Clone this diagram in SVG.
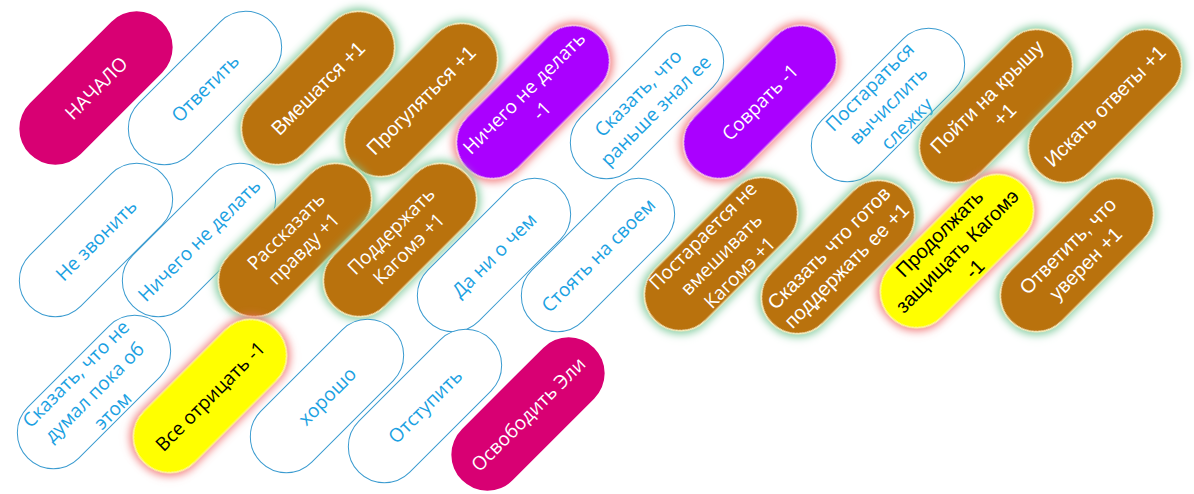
<svg xmlns="http://www.w3.org/2000/svg" width="1194" height="494" viewBox="0 0 1194 494">
<defs>
<filter id="glowG" x="-30%" y="-30%" width="160%" height="160%">
<feMorphology in="SourceAlpha" operator="dilate" radius="2" result="d"/>
<feGaussianBlur in="d" stdDeviation="4" result="b"/>
<feFlood flood-color="#7cc99a" flood-opacity="0.95"/>
<feComposite in2="b" operator="in" result="g"/>
<feMerge><feMergeNode in="g"/><feMergeNode in="SourceGraphic"/></feMerge>
</filter>
<filter id="glowR" x="-30%" y="-30%" width="160%" height="160%">
<feMorphology in="SourceAlpha" operator="dilate" radius="2" result="d"/>
<feGaussianBlur in="d" stdDeviation="4" result="b"/>
<feFlood flood-color="#f07070" flood-opacity="0.9"/>
<feComposite in2="b" operator="in" result="g"/>
<feMerge><feMergeNode in="g"/><feMergeNode in="SourceGraphic"/></feMerge>
</filter>
</defs>
<style>
.white rect{fill:#ffffff;stroke:#3a9bd0;stroke-width:1}
.white text{fill:#1ba1e2}
.mag rect{fill:#d80073;stroke:none}
.mag text{fill:#ffffff}
.brown rect{fill:#b9720c;stroke:#fff2c0;stroke-width:1.2;filter:url(#glowG)}
.brown text{fill:#ffffff}
.purple rect{fill:#aa00ff;stroke:#ffd0e0;stroke-width:1.2;filter:url(#glowR)}
.purple text{fill:#ffffff}
.yellow rect{fill:#ffff00;stroke:#fff6a0;stroke-width:1.2;filter:url(#glowR)}
.yellow text{fill:#000000}
text{font-family:"Open Sans","DejaVu Sans",sans-serif;font-size:19px;text-anchor:middle}
text.a{font-family:"Liberation Sans",Arial,sans-serif;font-size:20px}
</style>
<g id="connectors"/>

<g id="n1" class="mag" transform="translate(96,88) rotate(-45)"><rect x="-93.5" y="-36" width="187" height="72" rx="36"/><text y="7">НАЧАЛО</text></g>
<g id="n2" class="white" transform="translate(205,88) rotate(-45)"><rect x="-93.5" y="-36" width="187" height="72" rx="36"/><text y="7">Ответить</text></g>
<g id="n3" class="brown" transform="translate(318,88) rotate(-45)"><rect x="-93.5" y="-36" width="187" height="72" rx="36"/><text class="a" y="7">Вмешатся +1</text></g>
<g id="n4" class="brown" transform="translate(421,100) rotate(-45)"><rect x="-93.5" y="-36" width="187" height="72" rx="36"/><text class="a" y="7">Прогуляться +1</text></g>
<g id="n5" class="purple" transform="translate(533,102) rotate(-45)"><rect x="-93.5" y="-36" width="187" height="72" rx="36"/><text y="-6">Ничего не делать<tspan x="0" dy="25">-1</tspan></text></g>
<g id="n6" class="white" transform="translate(647,102) rotate(-45)"><rect x="-93.5" y="-36" width="187" height="72" rx="36"/><text y="-6">Сказать, что<tspan x="0" dy="25">раньше знал ее</tspan></text></g>
<g id="n7" class="purple" transform="translate(760,102) rotate(-45)"><rect x="-93.5" y="-36" width="187" height="72" rx="36"/><text y="7">Соврать -1</text></g>
<g id="n8" class="white" transform="translate(888,105) rotate(-45)"><rect x="-93.5" y="-36" width="187" height="72" rx="36"/><text y="-19">Постараться<tspan x="0" dy="26">вычислить</tspan><tspan x="0" dy="26">слежку</tspan></text></g>
<g id="n9" class="brown" transform="translate(996,106) rotate(-45)"><rect x="-93.5" y="-36" width="187" height="72" rx="36"/><text class="a" y="-6">Пойти на крышу<tspan x="0" dy="25">+1</tspan></text></g>
<g id="n10" class="brown" transform="translate(1105,106) rotate(-45)"><rect x="-93.5" y="-36" width="187" height="72" rx="36"/><text class="a" y="7">Искать ответы +1</text></g>

<g id="n11" class="white" transform="translate(96,240) rotate(-45)"><rect x="-93.5" y="-36" width="187" height="72" rx="36"/><text y="7">Не звонить</text></g>
<g id="n12" class="white" transform="translate(199,240) rotate(-45)"><rect x="-93.5" y="-36" width="187" height="72" rx="36"/><text y="7">Ничего не делать</text></g>
<g id="n13" class="brown" transform="translate(295,240) rotate(-45)"><rect x="-93.5" y="-36" width="187" height="72" rx="36"/><text y="-6">Рассказать<tspan x="0" dy="25">правду +1</tspan></text></g>
<g id="n14" class="brown" transform="translate(400,240) rotate(-45)"><rect x="-93.5" y="-36" width="187" height="72" rx="36"/><text y="-6">Поддержать<tspan x="0" dy="25">Кагомэ +1</tspan></text></g>
<g id="n15" class="white" transform="translate(494,255) rotate(-45)"><rect x="-93.5" y="-36" width="187" height="72" rx="36"/><text y="7">Да ни о чем</text></g>
<g id="n16" class="white" transform="translate(598,255) rotate(-45)"><rect x="-93.5" y="-36" width="187" height="72" rx="36"/><text y="7">Стоять на своем</text></g>
<g id="n17" class="brown" transform="translate(721,254) rotate(-45)"><rect x="-93.5" y="-36" width="187" height="72" rx="36"/><text y="-19">Постарается не<tspan x="0" dy="26">вмешивать</tspan><tspan x="0" dy="26">Кагомэ +1</tspan></text></g>
<g id="n18" class="brown" transform="translate(838,257) rotate(-45)"><rect x="-93.5" y="-36" width="187" height="72" rx="36"/><text class="a" y="-6">Сказать что готов<tspan x="0" dy="25">поддержать ее +1</tspan></text></g>
<g id="n19" class="yellow" transform="translate(957,251) rotate(-45)"><rect x="-93.5" y="-36" width="187" height="72" rx="36"/><text class="a" y="-18">Продолжать<tspan x="0" dy="25">защищать Кагомэ</tspan><tspan x="0" dy="25">-1</tspan></text></g>
<g id="n20" class="brown" transform="translate(1077,255) rotate(-45)"><rect x="-93.5" y="-36" width="187" height="72" rx="36"/><text class="a" y="-6">Ответить, что<tspan x="0" dy="25">уверен +1</tspan></text></g>

<g id="n21" class="white" transform="translate(94,392) rotate(-45)"><rect x="-93.5" y="-36" width="187" height="72" rx="36"/><text y="-19">Сказать, что не<tspan x="0" dy="26">думал пока об</tspan><tspan x="0" dy="26">этом</tspan></text></g>
<g id="n22" class="yellow" transform="translate(210,396) rotate(-45)"><rect x="-93.5" y="-36" width="187" height="72" rx="36"/><text y="7">Все отрицать -1</text></g>
<g id="n23" class="white" transform="translate(327,396) rotate(-45)"><rect x="-93.5" y="-36" width="187" height="72" rx="36"/><text y="7">хорошо</text></g>
<g id="n24" class="white" transform="translate(425,406) rotate(-45)"><rect x="-93.5" y="-36" width="187" height="72" rx="36"/><text y="7">Отступить</text></g>
<g id="n25" class="mag" transform="translate(528,414) rotate(-45)"><rect x="-93.5" y="-36" width="187" height="72" rx="36"/><text y="7">Освободить Эли</text></g>
</svg>
